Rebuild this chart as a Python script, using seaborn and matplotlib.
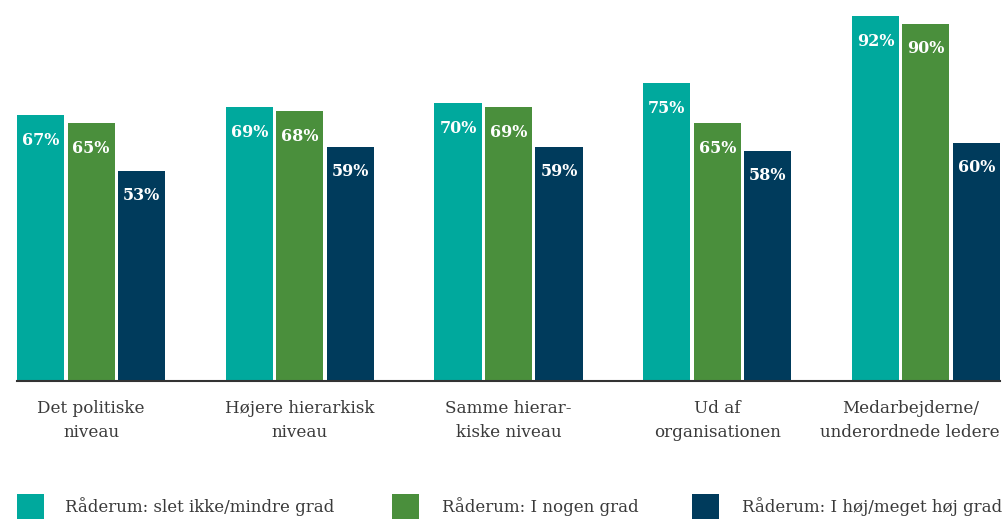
import matplotlib
matplotlib.use("Agg")
import matplotlib.pyplot as plt
from matplotlib.patches import Rectangle
import pandas as pd
import seaborn as sns

categories = [
    "Det politiske\nniveau",
    "Højere hierarkisk\nniveau",
    "Samme hierar-\nkiske niveau",
    "Ud af\norganisationen",
    "Medarbejderne/\nunderordnede ledere",
]
series = [
    "Råderum: slet ikke/mindre grad",
    "Råderum: I nogen grad",
    "Råderum: I høj/meget høj grad",
]
low_values = [67, 69, 70, 75, 92]
some_values = [65, 68, 69, 65, 90]
high_values = [53, 59, 59, 58, 60]
colors = ["#00A99D", "#4A8F3C", "#003B5C"]

rows = []
for s, vals in zip(series, [low_values, some_values, high_values]):
    for c, v in zip(categories, vals):
        rows.append({"kategori": c, "serie": s, "andel": v})
df = pd.DataFrame(rows)

sns.set_theme(style="white")
plt.rcParams["font.family"] = ["DejaVu Serif"]
text_color = "#3a3a3a"

fig = plt.figure(figsize=(10.05, 5.19), dpi=100)
ax = fig.add_axes([17 / 1005, 138 / 519, 983 / 1005, 381 / 519])

sns.barplot(
    data=df, x="kategori", y="andel", hue="serie",
    order=categories, hue_order=series, palette=colors,
    width=0.726, gap=0.066, saturation=1, legend=False, ax=ax,
    linewidth=0,
)

x_left, x_right = -0.355, 4.355
ax.set_xlim(x_left, x_right)
ax.set_ylim(0, 96.04)
ax.set_xlabel("")
ax.set_ylabel("")
ax.set_yticks([])
ax.set_xticks([])
for side in ["top", "right", "left"]:
    ax.spines[side].set_visible(False)
ax.spines["bottom"].set_color("#333333")
ax.spines["bottom"].set_linewidth(1.5)

# value labels inside the top of each bar
for container in ax.containers:
    for bar in container:
        h = bar.get_height()
        ax.annotate(
            f"{h:.0f}%",
            (bar.get_x() + bar.get_width() / 2, h),
            xytext=(0, -18), textcoords="offset points",
            ha="center", va="center", color="white",
            fontsize=11.5, fontweight="bold",
        )

# category labels under the axis; the last one is kept inside the right edge
for i, c in enumerate(categories):
    last = i == len(categories) - 1
    ax.annotate(
        c, (x_right if last else i, 0), xytext=(0, -13.5),
        textcoords="offset points",
        ha="right" if last else "center", multialignment="center",
        va="top", fontsize=12.1, color=text_color, linespacing=1.55,
    )

# legend row along the bottom edge
legend_x = [17, 392, 692]
text_x = [65, 442, 742]
for lx, tx, s, col in zip(legend_x, text_x, series, colors):
    fig.add_artist(Rectangle(
        (lx / 1005, -2 / 519), 27 / 1005, 27 / 519,
        transform=fig.transFigure, color=col, lw=0,
    ))
    fig.text(tx / 1005, 12 / 519, s, ha="left", va="center",
             fontsize=12, color=text_color)

fig.savefig("out.png", dpi=100)
